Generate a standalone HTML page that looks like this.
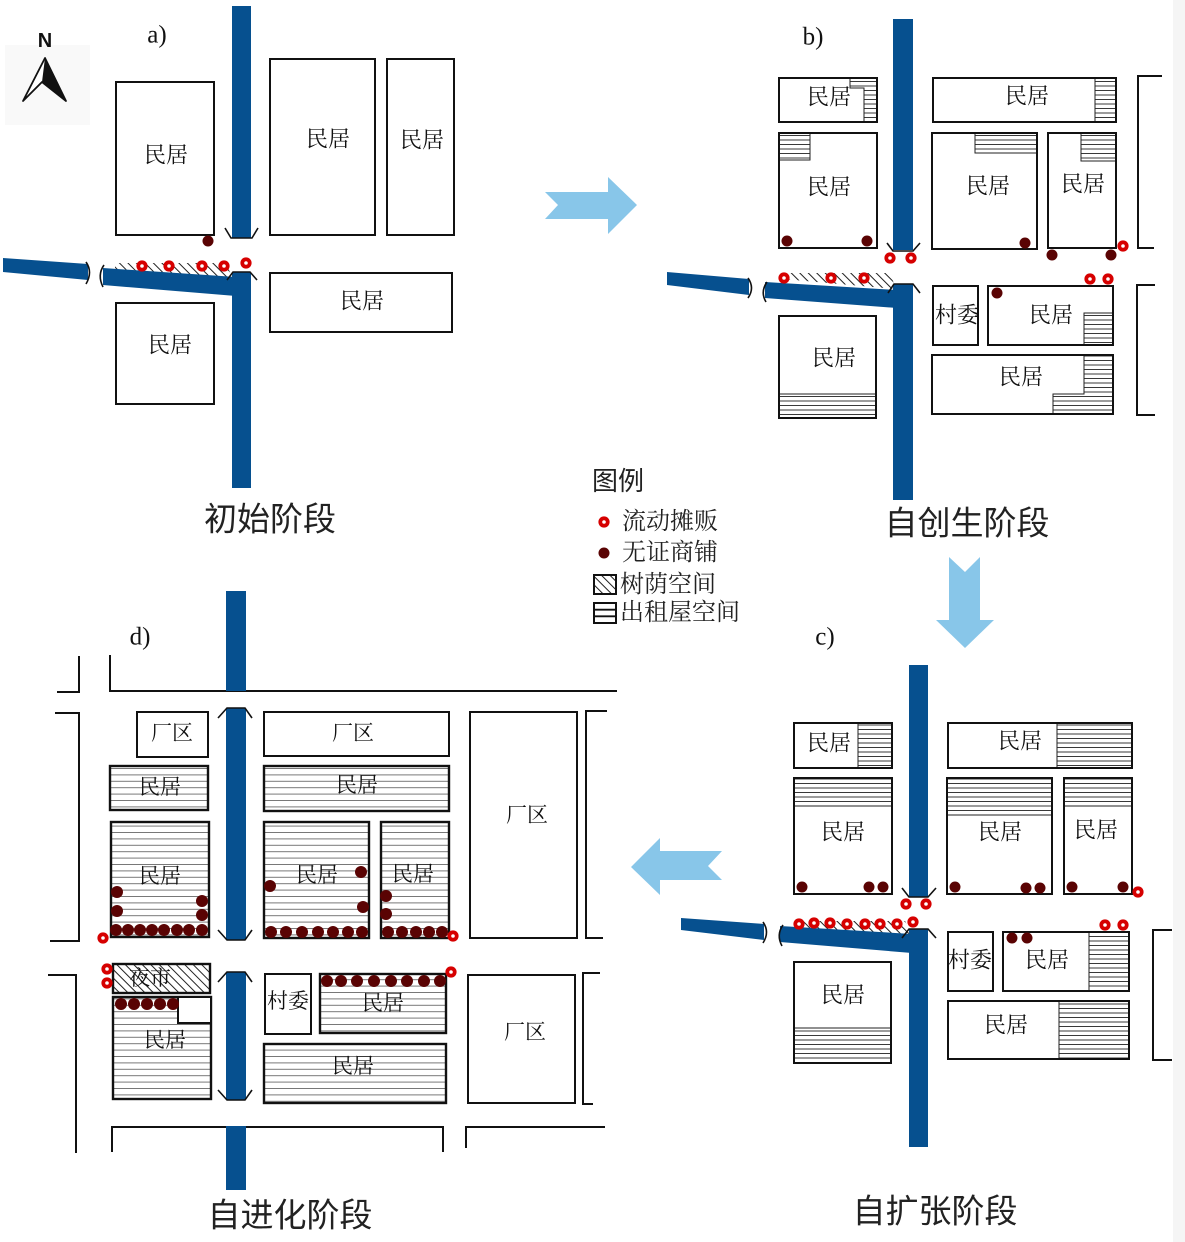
<!DOCTYPE html>
<html><head><meta charset="utf-8"><style>
html,body{margin:0;padding:0;background:#fff;}
svg{display:block}
.b{fill:none;stroke:#111;stroke-width:2}
.bw{fill:#fff;stroke:#111;stroke-width:2}
.ln{fill:none;stroke:#111;stroke-width:1.6}
.rd{fill:#06508f}
.t{font-family:"Liberation Serif","Noto Serif CJK SC",serif;font-size:22px;fill:#111;text-anchor:middle;dominant-baseline:central}
.td{font-family:"Liberation Serif","Noto Serif CJK SC",serif;font-size:21px;fill:#111;text-anchor:middle;dominant-baseline:central}
.st{font-family:"Liberation Sans","Noto Sans CJK SC",sans-serif;font-size:33px;fill:#222;text-anchor:middle;dominant-baseline:central}
.lb{font-family:"Liberation Serif",serif;font-size:25px;fill:#111;text-anchor:middle;dominant-baseline:central}
.lg{font-family:"Liberation Serif","Noto Serif CJK SC",serif;font-size:24px;fill:#222;dominant-baseline:central}
.dd{fill:#5a0303}
.ar{fill:#88c6e9}
</style></head><body>
<svg width="1185" height="1242" viewBox="0 0 1185 1242" xmlns="http://www.w3.org/2000/svg">
<defs>
<pattern id="rb" patternUnits="userSpaceOnUse" width="8" height="4.5"><rect width="8" height="4.5" fill="#fff"/><line x1="0" y1="0.5" x2="8" y2="0.5" stroke="#222" stroke-width="0.9"/></pattern>
<pattern id="rdp" patternUnits="userSpaceOnUse" width="8" height="6.4"><rect width="8" height="6.4" fill="#fff"/><line x1="0" y1="0.5" x2="8" y2="0.5" stroke="#777" stroke-width="1"/></pattern>
<pattern id="hh" patternUnits="userSpaceOnUse" width="6" height="6" patternTransform="rotate(-45)"><line x1="0.5" y1="0" x2="0.5" y2="6" stroke="#222" stroke-width="1"/></pattern>
<g id="rr"><circle r="5.6" fill="#d60000"/><circle r="1.8" fill="#fff"/></g>
</defs>

<rect x="1173" y="0" width="12" height="1242" fill="#f5f5f5"/>
<rect x="5" y="45" width="85" height="80" fill="#f9f9f9"/>

<!-- ===== Panel a ===== -->
<text x="45" y="41" font-family="Liberation Sans, sans-serif" font-weight="bold" font-size="20" text-anchor="middle" dominant-baseline="central" fill="#111">N</text>
<polygon points="45,58 23,101 42,82 66,101" fill="#fff" stroke="#111" stroke-width="1.8" stroke-linejoin="round"/>
<polygon points="45,58 42,82 66,101" fill="#111"/>
<text class="lb" x="157" y="35">a)</text>

<rect class="b" x="116" y="82" width="98" height="153"/>
<rect class="b" x="270" y="59" width="105" height="176"/>
<rect class="b" x="387" y="59" width="67" height="176"/>
<rect class="b" x="270" y="273" width="182" height="59"/>
<rect class="b" x="116" y="303" width="98" height="101"/>
<text class="t" x="166" y="155">民居</text>
<text class="t" x="328" y="139">民居</text>
<text class="t" x="422" y="140">民居</text>
<text class="t" x="362" y="301">民居</text>
<text class="t" x="170" y="345">民居</text>

<polygon points="115,263 226,263 232,277 115,269" fill="url(#hh)"/>
<rect class="rd" x="232" y="6" width="19" height="232"/>
<rect class="rd" x="232" y="272" width="19" height="216"/>
<polygon class="rd" points="3,258 88,264 88,280 3,272"/>
<polygon class="rd" points="103,268 236,277 236,296 103,285"/>
<polyline class="ln" points="225,228 231,238 252,238 258,228"/>
<polyline class="ln" points="227,280 233,272 250,272 257,280"/>
<path class="ln" d="M86,262 Q93,272 86,284"/>
<path class="ln" d="M104,265 Q97,275 103,287"/>
<use href="#rr" x="142" y="266"/><use href="#rr" x="169" y="266"/><use href="#rr" x="202" y="266"/><use href="#rr" x="224" y="266"/><use href="#rr" x="246" y="263"/>
<circle class="dd" cx="208" cy="241" r="5.5"/>
<text class="st" x="270" y="519">初始阶段</text>

<!-- arrow a->b -->
<polygon class="ar" points="545,192 608,192 608,177 637,205 608,234 608,219 545,219 558,205"/>

<!-- ===== Panel b ===== -->
<text class="lb" x="813" y="37">b)</text>
<polygon points="850,78 877,78 877,122 864,122 864,88 850,88" fill="url(#rb)" stroke="#222" stroke-width="1"/>
<rect class="b" x="779" y="78" width="98" height="44"/>
<rect x="779" y="133" width="31" height="27" fill="url(#rb)" stroke="#222" stroke-width="1"/>
<rect class="b" x="779" y="133" width="98" height="115"/>
<rect x="1095" y="78" width="21" height="44" fill="url(#rb)" stroke="#222" stroke-width="1"/>
<rect class="b" x="933" y="78" width="183" height="44"/>
<rect x="975" y="133" width="62" height="20" fill="url(#rb)" stroke="#222" stroke-width="1"/>
<rect class="b" x="932" y="133" width="105" height="116"/>
<rect x="1081" y="133" width="35" height="28" fill="url(#rb)" stroke="#222" stroke-width="1"/>
<rect class="b" x="1048" y="133" width="68" height="115"/>
<rect class="b" x="933" y="286" width="45" height="59"/>
<rect x="1084" y="313" width="29" height="32" fill="url(#rb)" stroke="#222" stroke-width="1"/>
<rect class="b" x="988" y="286" width="125" height="59"/>
<polygon points="1084,355 1113,355 1113,414 1053,414 1053,394 1084,394" fill="url(#rb)" stroke="#222" stroke-width="1"/>
<rect class="b" x="932" y="355" width="181" height="59"/>
<rect x="779" y="394" width="97" height="24" fill="url(#rb)" stroke="#222" stroke-width="1"/>
<rect class="b" x="779" y="316" width="97" height="102"/>
<polyline class="b" points="1162,76 1138,76 1138,248 1154,248"/>
<polyline class="b" points="1155,285 1137,285 1137,415 1155,415"/>
<text class="t" x="829" y="97">民居</text>
<text class="t" x="829" y="187">民居</text>
<text class="t" x="1027" y="96">民居</text>
<text class="t" x="988" y="186">民居</text>
<text class="t" x="1083" y="184">民居</text>
<text class="t" x="957" y="315">村委</text>
<text class="t" x="1051" y="315">民居</text>
<text class="t" x="1021" y="377">民居</text>
<text class="t" x="834" y="358">民居</text>

<polygon points="783,273 890,273 896,289 783,279" fill="url(#hh)"/>
<rect class="rd" x="893" y="19" width="20" height="231"/>
<rect class="rd" x="893" y="284" width="20" height="216"/>
<polygon class="rd" points="667,272 749,279 749,295 667,285"/>
<polygon class="rd" points="765,282 897,290 897,308 765,298"/>
<polyline class="ln" points="887,243 893,251 913,251 920,243"/>
<polyline class="ln" points="888,293 894,284 913,284 920,293"/>
<path class="ln" d="M748,278 Q755,288 748,298"/>
<path class="ln" d="M767,282 Q760,292 766,302"/>
<use href="#rr" x="784" y="278"/><use href="#rr" x="831" y="278"/><use href="#rr" x="864" y="278"/>
<use href="#rr" x="890" y="258"/><use href="#rr" x="911" y="258"/>
<use href="#rr" x="1123" y="246"/><use href="#rr" x="1090" y="279"/><use href="#rr" x="1108" y="279"/>
<circle class="dd" cx="787" cy="241" r="5.5"/><circle class="dd" cx="867" cy="241" r="5.5"/>
<circle class="dd" cx="1025" cy="243" r="5.5"/><circle class="dd" cx="1052" cy="255" r="5.5"/>
<circle class="dd" cx="1111" cy="255" r="5.5"/><circle class="dd" cx="997" cy="293" r="5.5"/>
<text class="st" x="967" y="523">自创生阶段</text>

<!-- legend -->
<text x="592" y="481" font-family="Liberation Sans, Noto Sans CJK SC, sans-serif" font-size="26" fill="#222" dominant-baseline="central">图例</text>
<use href="#rr" x="604" y="522"/>
<text class="lg" x="622" y="522">流动摊贩</text>
<circle class="dd" cx="604" cy="553" r="5.5"/>
<text class="lg" x="622" y="553">无证商铺</text>
<rect x="594" y="575" width="22" height="19" fill="url(#hh)" stroke="#111" stroke-width="2"/>
<text class="lg" x="620" y="585">树荫空间</text>
<rect x="594" y="603" width="22" height="20" fill="#fff" stroke="#111" stroke-width="2"/>
<line x1="594" y1="609.7" x2="616" y2="609.7" stroke="#111" stroke-width="1.8"/>
<line x1="594" y1="616.3" x2="616" y2="616.3" stroke="#111" stroke-width="1.8"/>
<text class="lg" x="620" y="613">出租屋空间</text>

<!-- arrow b->c -->
<polygon class="ar" points="949,557 965,572 980,557 980,620 994,620 965,648 936,620 949,620"/>

<!-- ===== Panel c ===== -->
<text class="lb" x="825" y="637">c)</text>
<rect x="858" y="723" width="34" height="45" fill="url(#rb)" stroke="#222" stroke-width="1"/>
<rect class="b" x="794" y="723" width="98" height="45"/>
<rect x="1057" y="723" width="75" height="45" fill="url(#rb)" stroke="#222" stroke-width="1"/>
<rect class="b" x="948" y="723" width="184" height="45"/>
<rect x="794" y="778" width="98" height="28" fill="url(#rb)" stroke="#222" stroke-width="1"/>
<rect class="b" x="794" y="778" width="98" height="116"/>
<rect x="947" y="778" width="105" height="37" fill="url(#rb)" stroke="#222" stroke-width="1"/>
<rect class="b" x="947" y="778" width="105" height="116"/>
<rect x="1064" y="778" width="68" height="28" fill="url(#rb)" stroke="#222" stroke-width="1"/>
<rect class="b" x="1064" y="778" width="68" height="116"/>
<rect class="b" x="948" y="932" width="45" height="59"/>
<rect x="1089" y="932" width="40" height="59" fill="url(#rb)" stroke="#222" stroke-width="1"/>
<rect class="b" x="1003" y="932" width="126" height="59"/>
<rect x="1059" y="1001" width="70" height="58" fill="url(#rb)" stroke="#222" stroke-width="1"/>
<rect class="b" x="948" y="1001" width="181" height="58"/>
<rect x="794" y="1028" width="97" height="35" fill="url(#rb)" stroke="#222" stroke-width="1"/>
<rect class="b" x="794" y="962" width="97" height="101"/>
<polyline class="b" points="1172,930 1153,930 1153,1060 1172,1060"/>
<text class="t" x="829" y="743">民居</text>
<text class="t" x="1020" y="741">民居</text>
<text class="t" x="843" y="832">民居</text>
<text class="t" x="1000" y="832">民居</text>
<text class="t" x="1096" y="830">民居</text>
<text class="t" x="970" y="960">村委</text>
<text class="t" x="1047" y="960">民居</text>
<text class="t" x="1006" y="1025">民居</text>
<text class="t" x="843" y="995">民居</text>

<polygon points="795,921 905,921 912,934 795,928" fill="url(#hh)"/>
<rect class="rd" x="909" y="665" width="19" height="232"/>
<rect class="rd" x="909" y="929" width="19" height="218"/>
<polygon class="rd" points="681,918 764,924 764,940 681,930"/>
<polygon class="rd" points="780,926 912,934 912,953 780,942"/>
<polyline class="ln" points="902,888 909,897 928,897 936,888"/>
<polyline class="ln" points="902,938 909,929 928,929 936,938"/>
<path class="ln" d="M763,922 Q770,932 763,943"/>
<path class="ln" d="M783,925 Q776,935 782,946"/>
<use href="#rr" x="799" y="924"/><use href="#rr" x="814" y="923"/><use href="#rr" x="830" y="923"/><use href="#rr" x="847" y="924"/>
<use href="#rr" x="865" y="924"/><use href="#rr" x="880" y="924"/><use href="#rr" x="897" y="924"/><use href="#rr" x="913" y="922"/>
<use href="#rr" x="906" y="904"/><use href="#rr" x="926" y="904"/>
<use href="#rr" x="1138" y="892"/><use href="#rr" x="1105" y="925"/><use href="#rr" x="1123" y="925"/>
<circle class="dd" cx="802" cy="887" r="5.5"/><circle class="dd" cx="869" cy="887" r="5.5"/><circle class="dd" cx="883" cy="887" r="5.5"/>
<circle class="dd" cx="955" cy="887" r="5.5"/><circle class="dd" cx="1026" cy="888" r="5.5"/><circle class="dd" cx="1040" cy="888" r="5.5"/>
<circle class="dd" cx="1072" cy="887" r="5.5"/><circle class="dd" cx="1123" cy="887" r="5.5"/>
<circle class="dd" cx="1012" cy="938" r="5.5"/><circle class="dd" cx="1027" cy="938" r="5.5"/>
<text class="st" x="935" y="1211">自扩张阶段</text>

<!-- arrow c->d -->
<polygon class="ar" points="631,867 660,838 660,851 722,851 708,866 722,880 660,880 660,895"/>

<!-- ===== Panel d ===== -->
<text class="lb" x="140" y="637">d)</text>
<polyline class="b" points="110,655 110,691 617,691"/>
<polyline class="b" points="57,692 79,692 79,656"/>
<polyline class="b" points="55,713 79,713 79,941 50,941"/>
<polyline class="b" points="48,975 76,975 76,1153"/>
<polyline class="b" points="112,1152 112,1127 443,1127 443,1152"/>
<polyline class="b" points="466,1148 466,1127 605,1127"/>
<polyline class="b" points="607,711 586,711 586,938 603,938"/>
<polyline class="b" points="600,973 583,973 583,1104 593,1104"/>

<rect class="b" x="137" y="712" width="71" height="45" stroke-width="2.4"/>
<rect x="110" y="766" width="98" height="44" fill="url(#rdp)" stroke="#111" stroke-width="2.4"/>
<rect x="111" y="822" width="98" height="115" fill="url(#rdp)" stroke="#111" stroke-width="2.4"/>
<rect class="b" x="264" y="712" width="185" height="44" stroke-width="2.4"/>
<rect x="264" y="766" width="185" height="45" fill="url(#rdp)" stroke="#111" stroke-width="2.4"/>
<rect x="264" y="822" width="105" height="116" fill="url(#rdp)" stroke="#111" stroke-width="2.4"/>
<rect x="381" y="822" width="68" height="116" fill="url(#rdp)" stroke="#111" stroke-width="2.4"/>
<rect class="b" x="470" y="712" width="107" height="226" stroke-width="2.4"/>
<rect x="113" y="964" width="97" height="29" fill="url(#hh)" stroke="#111" stroke-width="2.4"/>
<rect x="113" y="997" width="98" height="102" fill="url(#rdp)" stroke="#111" stroke-width="2.4"/>
<rect x="178" y="997" width="33" height="26" fill="#fff" stroke="#111" stroke-width="2"/>
<rect class="b" x="265" y="974" width="46" height="60" stroke-width="2.4"/>
<rect x="320" y="974" width="126" height="59" fill="url(#rdp)" stroke="#111" stroke-width="2.4"/>
<rect x="264" y="1044" width="182" height="59" fill="url(#rdp)" stroke="#111" stroke-width="2.4"/>
<rect class="b" x="468" y="975" width="107" height="128" stroke-width="2.4"/>

<text class="td" x="172" y="733">厂区</text>
<text class="td" x="160" y="787">民居</text>
<text class="td" x="160" y="876">民居</text>
<text class="td" x="353" y="733">厂区</text>
<text class="td" x="357" y="785">民居</text>
<text class="td" x="317" y="875">民居</text>
<text class="td" x="413" y="874">民居</text>
<text class="td" x="527" y="815">厂区</text>
<text class="td" x="150" y="978">夜市</text>
<text class="td" x="165" y="1040">民居</text>
<text class="td" x="288" y="1001">村委</text>
<text class="td" x="383" y="1003">民居</text>
<text class="td" x="353" y="1066">民居</text>
<text class="td" x="525" y="1032">厂区</text>

<rect class="rd" x="226" y="591" width="20" height="100"/>
<rect class="rd" x="226" y="708" width="20" height="232"/>
<rect class="rd" x="226" y="972" width="20" height="128"/>
<rect class="rd" x="226" y="1126" width="20" height="64"/>
<polyline class="ln" points="218,718 227,708 245,708 252,718"/>
<polyline class="ln" points="218,930 227,940 245,940 252,930"/>
<polyline class="ln" points="218,982 227,972 245,972 252,982"/>
<polyline class="ln" points="218,1090 227,1100 245,1100 252,1090"/>

<g class="dd">
<circle cx="116" cy="930" r="6"/><circle cx="128" cy="930" r="6"/><circle cx="140" cy="930" r="6"/><circle cx="152" cy="930" r="6"/>
<circle cx="164" cy="930" r="6"/><circle cx="177" cy="930" r="6"/><circle cx="189" cy="930" r="6"/><circle cx="202" cy="930" r="6"/>
<circle cx="117" cy="892" r="6"/><circle cx="117" cy="911" r="6"/><circle cx="202" cy="901" r="6"/><circle cx="202" cy="915" r="6"/>
<circle cx="271" cy="932" r="6"/><circle cx="286" cy="932" r="6"/><circle cx="302" cy="932" r="6"/><circle cx="318" cy="932" r="6"/>
<circle cx="333" cy="932" r="6"/><circle cx="348" cy="932" r="6"/><circle cx="362" cy="932" r="6"/>
<circle cx="270" cy="886" r="6"/><circle cx="361" cy="872" r="6"/><circle cx="363" cy="907" r="6"/>
<circle cx="388" cy="932" r="6"/><circle cx="402" cy="932" r="6"/><circle cx="416" cy="932" r="6"/><circle cx="429" cy="932" r="6"/><circle cx="442" cy="932" r="6"/>
<circle cx="386" cy="896" r="6"/><circle cx="386" cy="914" r="6"/>
<circle cx="121" cy="1004" r="6"/><circle cx="134" cy="1004" r="6"/><circle cx="147" cy="1004" r="6"/><circle cx="160" cy="1004" r="6"/><circle cx="173" cy="1004" r="6"/>
<circle cx="327" cy="981" r="6"/><circle cx="341" cy="981" r="6"/><circle cx="357" cy="981" r="6"/><circle cx="374" cy="981" r="6"/>
<circle cx="391" cy="981" r="6"/><circle cx="407" cy="981" r="6"/><circle cx="424" cy="981" r="6"/><circle cx="440" cy="981" r="6"/>
</g>
<use href="#rr" x="453" y="936"/><use href="#rr" x="103" y="938"/>
<use href="#rr" x="107" y="969"/><use href="#rr" x="107" y="983"/>
<use href="#rr" x="451" y="972"/>
<text class="st" x="290" y="1215">自进化阶段</text>
</svg>
</body></html>
